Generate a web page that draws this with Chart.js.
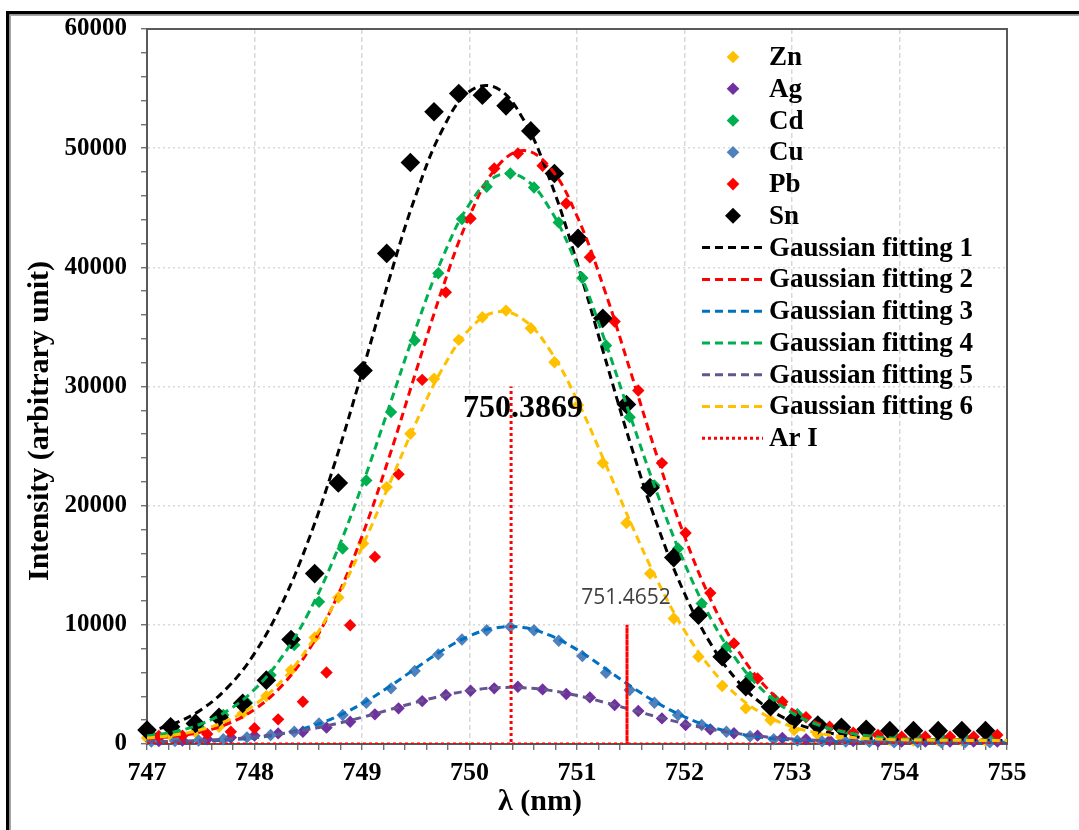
<!DOCTYPE html>
<html>
<head>
<meta charset="utf-8">
<script src="https://cdn.jsdelivr.net/npm/chart.js@4.4.1/dist/chart.umd.min.js"></script>
<style>
  html, body { margin: 0; padding: 0; background: #fff; }
  #wrap { width: 1079px; height: 830px; position: relative; }
</style>
</head>
<body>
<div id="wrap"><canvas id="spectrum"></canvas></div>
<script>
// wavelengths (nm) of the measured points, three detector grids
const wavelengthA = [747.00, 747.22, 747.45, 747.67, 747.89, 748.11, 748.34, 748.56, 748.78, 749.01, 749.23, 749.45,
  749.67, 749.90, 750.12, 750.34, 750.57, 750.79, 751.01, 751.24, 751.46, 751.68, 751.90, 752.13,
  752.35, 752.57, 752.80, 753.02, 753.24, 753.46, 753.69, 753.91, 754.13, 754.36, 754.58, 754.80];
const wavelengthB = [747.04, 747.26, 747.48, 747.71, 747.93, 748.15, 748.37, 748.60, 748.82, 749.04, 749.27, 749.49,
  749.71, 749.93, 750.16, 750.38, 750.60, 750.83, 751.05, 751.27, 751.49, 751.72, 751.94, 752.16,
  752.39, 752.61, 752.83, 753.05, 753.28, 753.50, 753.72, 753.95, 754.17, 754.39, 754.61, 754.84];
const wavelengthC = [747.11, 747.33, 747.56, 747.78, 748.00, 748.22, 748.45, 748.67, 748.89, 749.12, 749.34, 749.56,
  749.78, 750.01, 750.23, 750.45, 750.68, 750.90, 751.12, 751.35, 751.57, 751.79, 752.01, 752.24,
  752.46, 752.68, 752.91, 753.13, 753.35, 753.57, 753.80, 754.02, 754.24, 754.47, 754.69, 754.91];

// measured intensities
const zn = [500, 700, 1000, 1450, 2570, 4020, 6200, 8940, 12290, 16820, 21560, 26040, 30650, 33910, 35810, 36370,
  34890, 32040, 28450, 23570, 18550, 14300, 10530, 7320, 4860, 2990, 2010, 1170, 800, 550, 400, 350, 300, 300, 300, 300];
const ag = [250, 300, 400, 550, 700, 890, 1030, 1370, 1870, 2490, 2990, 3600, 4110, 4470, 4670, 4800,
  4580, 4190, 3910, 3270, 2770, 2150, 1590, 1230, 900, 700, 500, 400, 300, 250, 200, 200, 200, 200, 200, 200];
const cd = [800, 1100, 1450, 2430, 3460, 5780, 8300, 11930, 16400, 22120, 27850, 33860, 39500, 44050, 46760, 47880,
  46700, 43770, 39100, 33440, 27430, 21700, 16400, 11790, 8150, 5640, 3830, 2500, 1600, 1100, 850, 700, 600, 550, 500, 500];
const cu = [200, 250, 300, 400, 560, 750, 1030, 1730, 2430, 3460, 4670, 6120, 7520, 8770, 9550, 9830,
  9550, 8660, 7380, 5980, 4530, 3460, 2430, 1590, 1030, 650, 400, 280, 220, 200, 180, 150, 150, 150, 150, 150];
const pb = [670, 700, 840, 1030, 1320, 2070, 3550, 6000, 9970, 15700, 22630, 30560, 37900, 44100, 48300, 49550,
  48520, 45360, 40840, 35450, 29670, 23570, 17710, 12680, 8440, 5500, 3550, 2240, 1450, 950, 750, 610, 610, 610, 610, 750];
const sn = [1170, 1450, 1730, 2240, 3410, 5360, 8770, 14300, 21900, 31340, 41170, 48800, 53050, 54590, 54450, 53550,
  51450, 47880, 42430, 35720, 28490, 21510, 15640, 10810, 7320, 4800, 3130, 2070, 1590, 1400, 1230, 1120, 1120, 1120, 1120, 1120];

// fitted curves, read every 0.25 nm
const fitWavelength = [747.00, 747.25, 747.50, 747.75, 748.00, 748.25, 748.50, 748.75, 749.00, 749.25, 749.50,
  749.75, 750.00, 750.25, 750.50, 750.75, 751.00, 751.25, 751.50, 751.75, 752.00, 752.25, 752.50,
  752.75, 753.00, 753.25, 753.50, 753.75, 754.00, 754.25, 754.50, 754.75, 755.00];
const fit1 = [1020, 1700, 2860, 4750, 7600, 11670, 17050, 23670, 31170, 38910, 46030, 51590, 54760, 55060, 52430, 47300,
  40420, 32730, 25120, 18290, 12640, 8320, 5230, 3170, 1880, 1130, 710, 490, 385, 340, 320, 305, 300];
const fit2 = [450, 640, 1010, 1700, 2900, 4850, 7810, 11990, 17440, 24000, 31200, 38270, 44300, 48360, 49800, 48360,
  44300, 38270, 31200, 24000, 17440, 11990, 7810, 4850, 2900, 1700, 1010, 640, 450, 370, 330, 310, 300];
const fit3 = [165, 180, 230, 330, 520, 850, 1410, 2240, 3380, 4790, 6350, 7860, 9070, 9760, 9770, 9110,
  7920, 6410, 4850, 3430, 2280, 1430, 870, 530, 330, 230, 185, 165, 155, 150, 150, 150, 150];
const fit4 = [660, 1020, 1680, 2800, 4580, 7240, 10950, 15810, 21680, 28230, 34860, 40820, 45310, 47650, 47500, 44870,
  40170, 34090, 27420, 20930, 15170, 10450, 6860, 4320, 2630, 1580, 970, 630, 450, 370, 330, 310, 300];
const fit5 = [190, 230, 300, 410, 590, 860, 1220, 1680, 2240, 2860, 3490, 4050, 4480, 4720, 4720, 4500,
  4070, 3510, 2890, 2270, 1710, 1230, 870, 600, 420, 300, 230, 190, 170, 160, 150, 150, 150];
const fit6 = [510, 750, 1190, 1980, 3280, 5270, 8120, 11900, 16530, 21710, 26930, 31520, 34810, 36260, 35630, 33020,
  28880, 23830, 18560, 13660, 9520, 6300, 3980, 2430, 1460, 900, 590, 430, 360, 330, 310, 300, 300];

// Ar I reference lines
const arLines = [750.3869, 751.4652];
const arHeights = [30000, 10000];
const peakLabels = ['750.3869', '751.4652'];

const xRange = [747, 755];
const yRange = [0, 60000];

const SERIF = '"Liberation Serif", "Times New Roman", serif';

function pts(xs, ys) {
  return xs.map((v, i) => ({x: v, y: ys[i]}));
}

function marker(label, xs, ys, color, r) {
  return {
    label, data: pts(xs, ys), showLine: false, clip: false,
    pointStyle: 'rectRot', pointRadius: r, pointHoverRadius: r,
    backgroundColor: color, borderColor: color, pointBorderWidth: 0
  };
}

function fitLine(label, ys, color) {
  return {
    label, data: pts(fitWavelength, ys), showLine: true,
    borderColor: color, backgroundColor: color, borderWidth: 3,
    borderDash: [8, 5], pointRadius: 0, tension: 0.4
  };
}

const arData = [{x: xRange[0], y: 0}];
arLines.forEach((w, i) => {
  arData.push({x: w, y: 0}, {x: w, y: arHeights[i]}, {x: w, y: 0});
});
arData.push({x: xRange[1], y: 0});

const datasets = [
  marker('Zn', wavelengthA, zn, '#ffc000', 6.2),
  marker('Ag', wavelengthC, ag, '#7030a0', 6.2),
  marker('Cd', wavelengthB, cd, '#00b050', 6.2),
  marker('Cu', wavelengthB, cu, '#4f81bd', 6.2),
  marker('Pb', wavelengthC, pb, '#ff0000', 6.2),
  marker('Sn', wavelengthA, sn, '#000000', 9.8),
  fitLine('Gaussian fitting 1', fit1, '#000000'),
  fitLine('Gaussian fitting 2', fit2, '#ff0000'),
  fitLine('Gaussian fitting 3', fit3, '#0070c0'),
  fitLine('Gaussian fitting 4', fit4, '#00b050'),
  fitLine('Gaussian fitting 5', fit5, '#65558f'),
  fitLine('Gaussian fitting 6', fit6, '#ffc000'),
  {
    label: 'Ar I', data: arData, showLine: true, borderColor: '#ff0000',
    borderWidth: 3, borderDash: [3, 3], pointRadius: 0, tension: 0
  }
];
// later series painted on top, as in the original
datasets.forEach((d, i) => { d.order = datasets.length - i; });

const isWhole = v => Math.abs(v - Math.round(v)) < 1e-6;

const framePlugin = {
  id: 'frame',
  beforeDraw(chart) {
    const ctx = chart.ctx;
    ctx.save();
    ctx.fillStyle = '#fff';
    ctx.fillRect(0, 0, chart.width, chart.height);
    ctx.fillStyle = '#000';
    ctx.fillRect(6, 11, chart.width - 6, 3.5);
    ctx.fillRect(6, 11, 3.5, chart.height - 11);
    ctx.fillStyle = '#a6a6a6';
    ctx.fillRect(9.5, 14.5, chart.width - 9.5, 1.5);
    ctx.fillRect(9.5, 14.5, 1.5, chart.height - 14.5);
    ctx.restore();
  },
  beforeDatasetsDraw(chart) {
    const {ctx, chartArea: a} = chart;
    ctx.save();
    ctx.strokeStyle = '#595959';
    ctx.lineWidth = 2;
    ctx.strokeRect(a.left, a.top, a.right - a.left, a.bottom - a.top);
    ctx.restore();
  }
};

const overlayPlugin = {
  id: 'overlay',
  afterDatasetsDraw(chart) {
    const {ctx, chartArea: a, scales: {x, y}} = chart;
    ctx.save();
    ctx.textAlign = 'center';
    ctx.textBaseline = 'middle';

    // peak labels
    ctx.fillStyle = '#000';
    ctx.font = 'bold 32px ' + SERIF;
    ctx.fillText(peakLabels[0], x.getPixelForValue(arLines[0]) + 12, y.getPixelForValue(arHeights[0]) + 22);
    ctx.fillStyle = '#404040';
    ctx.font = '21px "Open Sans", sans-serif';
    ctx.fillText(peakLabels[1], x.getPixelForValue(arLines[1]) - 1, y.getPixelForValue(arHeights[1]) - 27);

    // axis titles
    ctx.fillStyle = '#000';
    ctx.font = 'bold 30px ' + SERIF;
    ctx.fillText('λ (nm)', 540, 802);
    ctx.save();
    ctx.translate(40, 421);
    ctx.rotate(-Math.PI / 2);
    ctx.fillText('Intensity (arbitrary unit)', 0, 0);
    ctx.restore();

    // legend
    const lineStart = a.right - 305, lineEnd = a.right - 244;
    const markX = a.right - 274, textX = a.right - 238;
    ctx.textAlign = 'left';
    ctx.font = 'bold 27px ' + SERIF;
    chart.data.datasets.forEach((d, i) => {
      const ry = a.top + 28 + i * 31.77;
      if (d.showLine) {
        ctx.save();
        ctx.strokeStyle = d.borderColor;
        ctx.lineWidth = 3;
        ctx.setLineDash(d.borderDash);
        ctx.beginPath();
        ctx.moveTo(lineStart, ry);
        ctx.lineTo(lineEnd, ry);
        ctx.stroke();
        ctx.restore();
      } else {
        const r = d.pointRadius > 8 ? 8 : 6.3;
        ctx.fillStyle = d.backgroundColor;
        ctx.beginPath();
        ctx.moveTo(markX, ry - r);
        ctx.lineTo(markX + r, ry);
        ctx.lineTo(markX, ry + r);
        ctx.lineTo(markX - r, ry);
        ctx.closePath();
        ctx.fill();
      }
      ctx.fillStyle = '#000';
      ctx.fillText(d.label, textX, ry + 1);
    });
    ctx.restore();
  }
};

new Chart(document.getElementById('spectrum'), {
  type: 'scatter',
  data: {datasets},
  options: {
    responsive: true,
    maintainAspectRatio: false,
    devicePixelRatio: 1,
    animation: false,
    events: [],
    layout: {padding: {top: 28, right: 72, left: 0, bottom: 0}},
    plugins: {legend: {display: false}, tooltip: {enabled: false}},
    scales: {
      x: {
        type: 'linear', position: 'bottom', min: xRange[0], max: xRange[1],
        ticks: {
          stepSize: 0.2, autoSkip: false, maxRotation: 0, padding: 8, color: '#000',
          font: {family: SERIF, size: 26, weight: 'bold'},
          callback: v => isWhole(v) ? String(Math.round(v)) : ''
        },
        grid: {
          color: c => (c.tick && isWhole(c.tick.value)) ? '#d9d9d9' : 'rgba(0,0,0,0)',
          lineWidth: 1.5, tickLength: 6, tickColor: '#595959', tickWidth: 1.2
        },
        border: {display: true, color: '#404040', width: 2, dash: [5, 3]},
        afterFit: s => { s.height = 86; }
      },
      y: {
        type: 'linear', min: yRange[0], max: yRange[1],
        ticks: {
          stepSize: 2000, autoSkip: false, padding: 14, color: '#000',
          font: {family: SERIF, size: 25, weight: 'bold'},
          callback: v => v % 10000 === 0 ? String(v) : ''
        },
        grid: {
          color: c => (c.tick && c.tick.value % 10000 === 0) ? '#d9d9d9' : 'rgba(0,0,0,0)',
          lineWidth: 1.5, tickLength: 6, tickColor: '#595959', tickWidth: 1.2
        },
        border: {display: true, color: '#595959', width: 2, dash: [2, 3]},
        afterFit: s => { s.width = 147; }
      }
    }
  },
  plugins: [framePlugin, overlayPlugin]
});
</script>
</body>
</html>
